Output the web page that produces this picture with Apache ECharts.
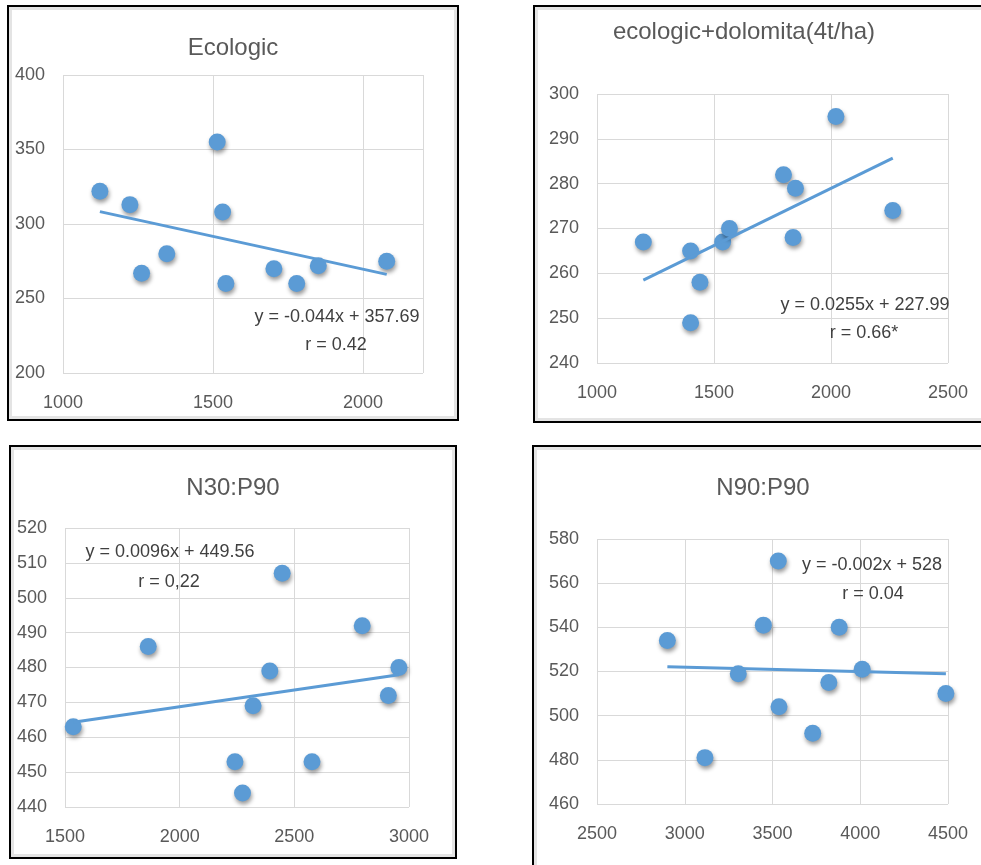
<!DOCTYPE html>
<html>
<head>
<meta charset="utf-8">
<script src="https://cdn.jsdelivr.net/npm/echarts@6/dist/echarts.min.js"></script>
<style>
  html, body { margin: 0; padding: 0; background: #fff; }
  #chart { width: 981px; height: 865px; }
</style>
</head>
<body>
<div id="chart"></div>
<script>
// panel titles
var titles = ['Ecologic', 'ecologic+dolomita(4t/ha)', 'N30:P90', 'N90:P90'];
var eqTexts = ['y = -0.044x + 357.69', 'y = 0.0255x + 227.99', 'y = 0.0096x + 449.56', 'y = -0.002x + 528'];
var rTexts = ['r = 0.42', 'r = 0.66*', 'r = 0,22', 'r = 0.04'];

// Ecologic
var ecoX = [1123, 1223, 1262, 1346, 1514, 1532, 1543, 1703, 1779, 1851, 2079];
var ecoY = [322, 313, 267, 280, 355, 308, 260, 270, 260, 272, 275];
var ecoTrend = [[1123, 308.3], [2079, 266.2]];

// ecologic + dolomita
var dolX = [1198, 1400, 1440, 1400, 1537, 1566, 1797, 1848, 1838, 2021, 2264];
var dolY = [267, 265, 258, 249, 267, 270, 282, 279, 268, 295, 274];
var dolTrend = [[1198, 258.5], [2264, 285.7]];

// N30:P90
var n30X = [1536, 1863, 2241, 2274, 2320, 2393, 2447, 2577, 2796, 2910, 2956];
var n30Y = [463, 486, 453, 444, 469, 479, 507, 453, 492, 472, 480];
var n30Trend = [[1536, 464.3], [2956, 477.9]];

// N90:P90
var n90X = [2901, 3115, 3305, 3448, 3533, 3537, 3729, 3821, 3880, 4011, 4488];
var n90Y = [534, 481, 519, 541, 570, 504, 492, 515, 540, 521, 510];
var n90Trend = [[2901, 522.2], [4488, 519.0]];

// axis ranges: [min, max, interval]
var xRanges = [[1000, 2200, 500], [1000, 2500, 500], [1500, 3000, 500], [2500, 4500, 500]];
var yRanges = [[200, 400, 50], [240, 300, 10], [440, 520, 10], [460, 580, 20]];

var xs = [ecoX, dolX, n30X, n90X];
var ys = [ecoY, dolY, n30Y, n90Y];
var trends = [ecoTrend, dolTrend, n30Trend, n90Trend];

var FONT = '"Liberation Sans", Arial, sans-serif';
var BLUE = '#5b9bd5';

// layout (pixels)
var grids = [
  {left: 63, top: 75, width: 360, height: 298},
  {left: 597, top: 94, width: 351, height: 269},
  {left: 65, top: 528, width: 344, height: 279},
  {left: 597, top: 539, width: 351, height: 265}
];
var boxes = [[8, 6, 450, 414], [534, 6, 460, 416], [10, 446, 446, 412], [533, 446, 460, 430]];
var titlePos = [[233, 48], [744, 32], [233, 488], [763, 488]];
var eqPos = [[337, 317], [865, 305], [170, 552], [872, 565]];
var rPos = [[336, 345], [864, 333], [169, 582], [873, 594]];

function plain(v) { return String(v); }

var option = {
  animation: false,
  backgroundColor: '#fff',
  grid: grids,
  xAxis: [],
  yAxis: [],
  series: [],
  graphic: []
};

for (var i = 0; i < 4; i++) {
  var xr = xRanges[i], yr = yRanges[i];
  option.xAxis.push({
    type: 'value', gridIndex: i, min: xr[0], max: xr[1], interval: xr[2],
    axisLine: {show: false}, axisTick: {show: false},
    splitLine: {show: true, lineStyle: {color: '#d9d9d9', width: 1}},
    axisLabel: {fontSize: 18, fontFamily: FONT, color: '#595959', margin: 21, formatter: plain,
      showMaxLabel: xr[1] % xr[2] === 0}
  });
  option.yAxis.push({
    type: 'value', gridIndex: i, min: yr[0], max: yr[1], interval: yr[2],
    axisLine: {show: false}, axisTick: {show: false},
    splitLine: {show: true, lineStyle: {color: '#d9d9d9', width: 1}},
    axisLabel: {fontSize: 18, fontFamily: FONT, color: '#595959', margin: 18, formatter: plain}
  });
  var pts = xs[i].map(function (v, k) { return [v, ys[i][k]]; });
  option.series.push({
    type: 'scatter', xAxisIndex: i, yAxisIndex: i, data: pts,
    symbolSize: 17, z: 2,
    itemStyle: {color: BLUE, opacity: 1, shadowColor: 'rgba(0,0,0,0.4)', shadowBlur: 4, shadowOffsetX: 1, shadowOffsetY: 3}
  });
  option.series.push({
    type: 'line', xAxisIndex: i, yAxisIndex: i, data: trends[i],
    showSymbol: false, silent: true, z: 3,
    lineStyle: {color: BLUE, width: 3}
  });

  var b = boxes[i];
  option.graphic.push({
    type: 'rect', z: 0,
    shape: {x: b[0] + 2.5, y: b[1] + 2.5, width: b[2] - 5, height: b[3] - 5},
    style: {fill: 'none', stroke: '#e4e4e4', lineWidth: 3}
  });
  option.graphic.push({
    type: 'rect', z: 0,
    shape: {x: b[0], y: b[1], width: b[2], height: b[3]},
    style: {fill: 'none', stroke: '#000', lineWidth: 2}
  });
  option.graphic.push({
    type: 'text', x: titlePos[i][0], y: titlePos[i][1],
    style: {text: titles[i], fill: '#595959', fontSize: 24, fontFamily: FONT, align: 'center', verticalAlign: 'middle'}
  });
  option.graphic.push({
    type: 'text', x: eqPos[i][0], y: eqPos[i][1], z: 10,
    style: {text: eqTexts[i], fill: '#404040', fontSize: 18, fontFamily: FONT, align: 'center', verticalAlign: 'middle'}
  });
  option.graphic.push({
    type: 'text', x: rPos[i][0], y: rPos[i][1], z: 10,
    style: {text: rTexts[i], fill: '#404040', fontSize: 18, fontFamily: FONT, align: 'center', verticalAlign: 'middle'}
  });
}

var myChart = echarts.init(document.getElementById('chart'), null, {renderer: 'canvas'});
myChart.setOption(option);
</script>
</body>
</html>
